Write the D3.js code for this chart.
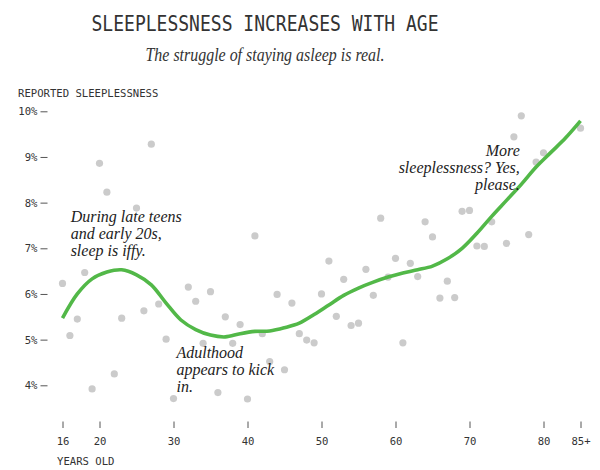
<!DOCTYPE html>
<html><head><meta charset="utf-8">
<script src="https://cdn.jsdelivr.net/npm/d3@7"></script>
<style>
html,body{margin:0;padding:0;background:#fff;}
svg{display:block;}
</style></head><body>
<svg id="chart" width="600" height="470"></svg>
<script>
// ---- data ----
const ages = [15,16,17,18,19,20,21,22,23,25,26,27,28,29,30,32,33,34,35,36,37,38,39,40,41,42,43,44,45,46,47,48,49,50,51,52,53,54,55,56,57,58,59,60,61,62,63,64,65,66,67,68,69,70,71,72,73,75,76,77,78,79,80,85];
const sleeplessness = [6.23,5.09,5.45,6.47,3.92,8.86,8.23,4.25,5.47,7.88,5.63,9.28,5.78,5.01,3.71,6.15,5.84,4.92,6.05,3.84,5.50,4.92,5.33,3.70,7.27,5.13,4.52,5.99,4.34,5.80,5.13,4.99,4.93,6.00,6.72,5.51,6.32,5.31,5.36,6.54,5.97,7.66,6.37,6.78,4.93,6.67,6.38,7.58,7.25,5.91,6.28,5.92,7.81,7.83,7.05,7.04,7.58,7.11,9.44,9.90,7.30,8.89,9.09,9.63];
const trendAges = [15,17,19,21,23,25,27,29,31,33,35,37,39,41,43,45,47,49,51,53,55,57,59,61,63,65,67,69,71,73,75,77,79,81,83,85];
const trendValues = [5.47,6.00,6.33,6.48,6.53,6.42,6.20,5.80,5.43,5.22,5.10,5.06,5.13,5.18,5.19,5.26,5.36,5.55,5.76,5.97,6.13,6.26,6.37,6.46,6.53,6.61,6.77,7.00,7.33,7.70,8.05,8.40,8.78,9.10,9.42,9.79];
const xTickValues = [15,20,30,40,50,60,70,80,85];
const xTickLabels = ["16","20","30","40","50","60","70","80","85+"];
const yTickValues = [4,5,6,7,8,9,10];
const titleText = "SLEEPLESSNESS INCREASES WITH AGE";
const subtitleText = "The struggle of staying asleep is real.";
const yAxisTitle = "REPORTED SLEEPLESSNESS";
const xAxisTitle = "YEARS OLD";
const noteTeens = ["During late teens","and early 20s,","sleep is iffy."];
const noteAdult = ["Adulthood","appears to kick","in."];
const noteOld = ["More","sleeplessness? Yes,","please."];

// ---- drawing ----
const svg = d3.select("#chart");
svg.append("rect").attr("width",600).attr("height",470).attr("fill","#fff");
const mono = '"DejaVu Sans Mono", monospace';
const serif = '"Liberation Serif", "DejaVu Serif", serif';

const x = d3.scaleLinear().domain([15,85]).range([62.5,580.5]);
const y = d3.scaleLinear().domain([4,10]).range([385.3,111.3]);

// title
svg.append("text").attr("x",265).attr("y",31).attr("text-anchor","middle")
  .attr("font-family",mono).attr("font-size",21).attr("fill","#333")
  .attr("textLength",347).attr("lengthAdjust","spacingAndGlyphs").text(titleText);
svg.append("text").attr("x",265).attr("y",61).attr("text-anchor","middle")
  .attr("font-family",serif).attr("font-style","italic").attr("font-size",18).attr("fill","#333")
  .attr("textLength",239).attr("lengthAdjust","spacingAndGlyphs").text(subtitleText);

// axis titles
svg.append("text").attr("x",18).attr("y",97).attr("font-family",mono).attr("font-size",10.6)
  .attr("fill","#333").text(yAxisTitle);
svg.append("text").attr("x",57).attr("y",465).attr("font-family",mono).attr("font-size",10.6)
  .attr("fill","#333").text(xAxisTitle);

// y axis
const ya = svg.append("g").attr("transform","translate(47.5,0)")
  .call(d3.axisLeft(y).tickValues(yTickValues).tickSize(7).tickPadding(3).tickFormat(d=>d+"%"));
ya.select(".domain").remove();
ya.selectAll("line").attr("stroke","#555").attr("stroke-width",1);
ya.selectAll("text").attr("font-family",mono).attr("font-size",10.6).attr("fill","#333");

// x axis
const xa = svg.append("g").attr("transform","translate(0,421.5)")
  .call(d3.axisBottom(x).tickValues(xTickValues).tickSize(6.5).tickPadding(9)
    .tickFormat((d,i)=>xTickLabels[i]));
xa.select(".domain").remove();
xa.selectAll("line").attr("stroke","#555").attr("stroke-width",1);
xa.selectAll("text").attr("font-family",mono).attr("font-size",10.6).attr("fill","#333");

// dots
svg.append("g").selectAll("circle").data(ages.map((a,i)=>({a,v:sleeplessness[i]})))
  .join("circle").attr("cx",d=>x(d.a)).attr("cy",d=>y(d.v)).attr("r",3.6).attr("fill","#cbcbcb");

// trend
const line = d3.line().x(d=>x(d[0])).y(d=>y(d[1])).curve(d3.curveCatmullRom.alpha(0.5));
svg.append("path").datum(trendAges.map((a,i)=>[a,trendValues[i]]))
  .attr("d",line).attr("fill","none").attr("stroke","#52b848").attr("stroke-width",3.6)
  .attr("stroke-linecap","butt").attr("stroke-linejoin","round");

// annotations
function note(lines, ax, ay, anchor){
  const t = svg.append("text").attr("font-family",serif).attr("font-style","italic")
    .attr("font-size",16).attr("fill","#222").attr("text-anchor",anchor);
  lines.forEach((l,i)=>t.append("tspan").attr("x",x(ax)).attr("y",y(ay)+i*17).text(l));
}
note(noteTeens, 16.1, 7.58, "start");
note(noteAdult, 30.4, 4.60, "start");
note(noteOld, 76.8, 9.02, "end");
</script>
</body></html>
